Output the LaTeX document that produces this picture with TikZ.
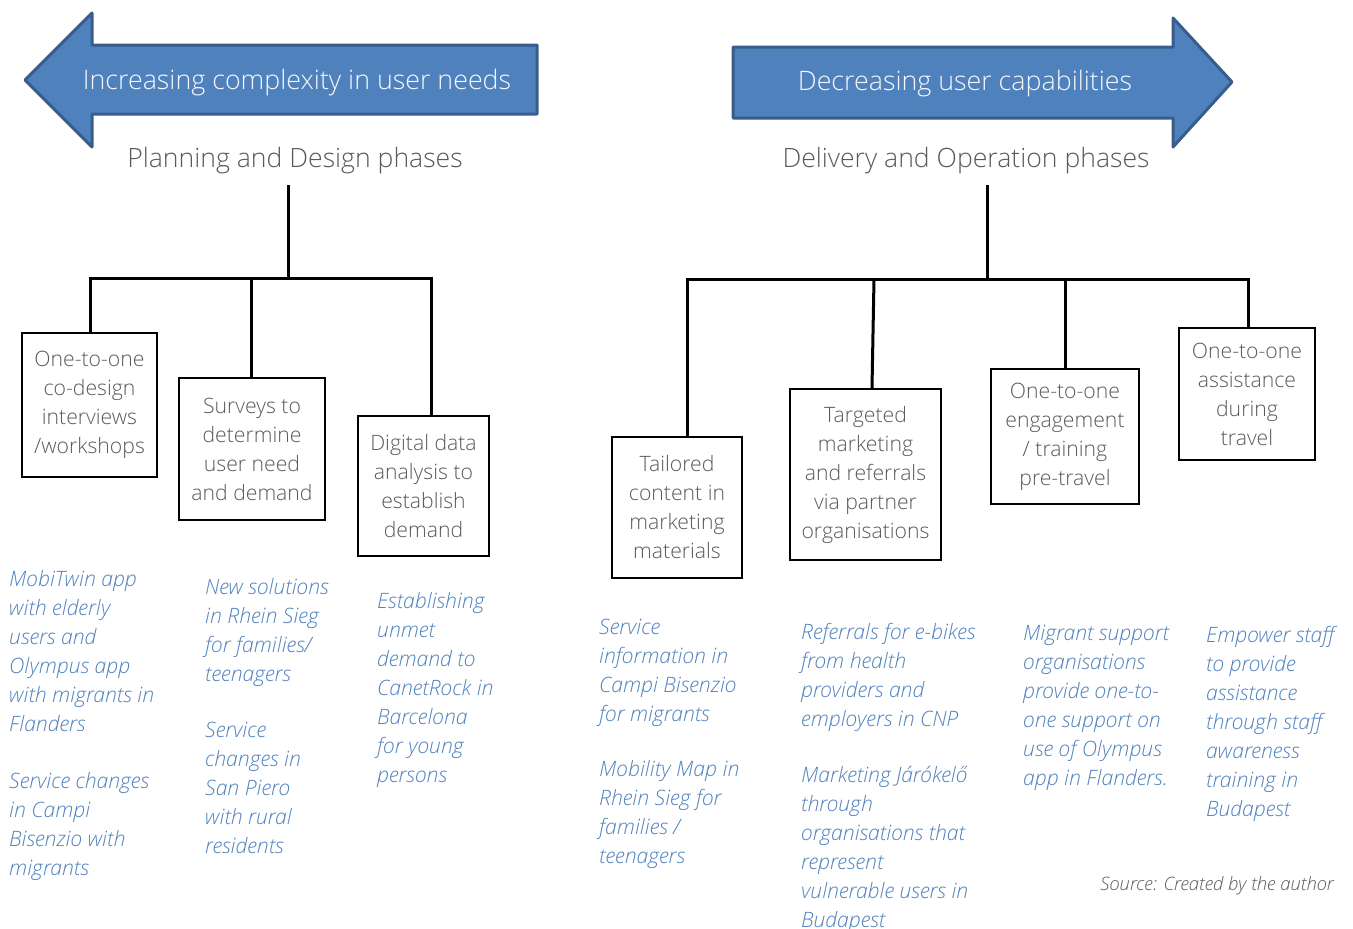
\documentclass[tikz,border=0pt]{standalone}
\usepackage{fontspec}
\setmainfont{Open Sans Light}[ItalicFont={Open Sans Light Italic}]
\usetikzlibrary{positioning}

\definecolor{arrowblue}{HTML}{4F81BD}
\definecolor{arrowedge}{HTML}{385D8A}
\definecolor{boxgray}{HTML}{595959}
\definecolor{exblue}{HTML}{4F81BD}

\tikzset{
  bigarrow/.style={fill=arrowblue, draw=arrowedge, line width=3pt, line join=round},
  arrowtext/.style={text=white!94!arrowblue, font=\fontsize{26.8}{29}\selectfont},
  heading/.style={text=boxgray, font=\fontsize{26.6}{29}\selectfont},
  phasebox/.style={draw, line width=2pt, text=boxgray, align=center, inner sep=0pt,
    font=\fontsize{21.2}{29}\selectfont},
  example/.style={anchor=north west, align=left, inner sep=0pt, text=exblue,
    font=\fontsize{21.2}{29}\selectfont\itshape},
  tree/.style={line width=3pt}
}

\begin{document}
\begin{tikzpicture}[x=1pt, y=-1pt]
  \useasboundingbox (0,0) rectangle (1353,929);

  % the two big arrows
  \draw[bigarrow] (25,80) -- (92,13) -- (92,45) -- (537,45) -- (537,114)
    -- (92,114) -- (92,147) -- cycle;
  \node[arrowtext] (needs) at (297,83) {Increasing complexity in user needs};

  \draw[bigarrow] (733,47) -- (1173,47) -- (1173,18) -- (1232,82)
    -- (1173,147) -- (1173,118) -- (733,118) -- cycle;
  \node[arrowtext] (capab) at (965,84) {Decreasing user capabilities};

  \node[heading] (plan) at (295,161) {Planning and Design phases};
  \node[heading] (deliv) at (966,161) {Delivery and Operation phases};

  % planning side
  \node[phasebox, minimum width=135, minimum height=144] at (89.5,405) (codes)
    {One-to-one\\co-design\\interviews\\/workshops};
  \node[phasebox, minimum width=146, minimum height=142] at (252,449) (surv)
    {Surveys to\\determine\\user need\\and demand};
  \node[phasebox, minimum width=131, minimum height=140] at (423.5,486) (digi)
    {Digital data\\analysis to\\establish\\demand};

  \coordinate (lstem) at (288,185);
  \coordinate (lhub) at (288,278);
  \coordinate (l1) at (90,278);
  \coordinate (l2) at (251,278);
  \coordinate (l3) at (431,278);
  \draw[tree] (lstem) -- (lhub);
  \draw[tree, line cap=rect] (l1) -- (l3);
  \draw[tree] (l1) -- (l1 |- codes.north);
  \draw[tree] (l2) -- (l2 |- surv.north);
  \draw[tree] (l3) -- (l3 |- digi.north);

  % delivery side
  \node[phasebox, minimum width=130, minimum height=141] at (677,507.5) (tail)
    {Tailored\\content in\\marketing\\materials};
  \node[phasebox, minimum width=151, minimum height=171] at (865.5,474.5) (targ)
    {Targeted\\marketing\\and referrals\\via partner\\organisations};
  \node[phasebox, minimum width=148, minimum height=135] at (1065,436.5) (engage)
    {One-to-one\\engagement\\/ training\\pre-travel};
  \node[phasebox, minimum width=136, minimum height=132] at (1247,394) (assist)
    {One-to-one\\assistance\\during\\travel};

  \coordinate (rstem) at (987,185);
  \coordinate (rhub) at (987,279);
  \coordinate (r1) at (687,279);
  \coordinate (r2) at (874,279);
  \coordinate (r3) at (1065,279);
  \coordinate (r4) at (1248,279);
  \draw[tree] (rstem) -- (rhub);
  \draw[tree, line cap=rect] (r1) -- (r4);
  \draw[tree] (r1) -- (r1 |- tail.north);
  \draw[tree] (r2) -- ([xshift=-2pt]r2 |- targ.north);
  \draw[tree] (r3) -- (r3 |- engage.north);
  \draw[tree] (r4) -- (r4 |- assist.north);

  % examples
  \node[example] (ex1) at (9,570) {MobiTwin app\\with elderly\\users and\\Olympus app\\with migrants in\\Flanders\\[28pt]Service changes\\in Campi\\Bisenzio with\\migrants};
  \node[example] (ex2) at (205,578) {New solutions\\in Rhein Sieg\\for families/\\teenagers\\[27pt]Service\\changes in\\San Piero\\with rural\\residents};
  \node[example] (ex3) at (377,592) {Establishing\\unmet\\demand to\\CanetRock in\\Barcelona\\for young\\persons};
  \node[example] (ex4) at (599,619) {Service\\information in\\Campi Bisenzio\\for migrants\\[26pt]Mobility Map in\\Rhein Sieg for\\families /\\teenagers};
  \node[example] (ex5) at (801,623) {Referrals for e-bikes\\from health\\providers and\\employers in CNP\\[27pt]Marketing Járókelő\\through\\organisations that\\represent\\vulnerable users in\\Budapest};
  \node[example] (ex6) at (1023,625) {Migrant support\\organisations\\provide one-to-\\one support on\\use of Olympus\\app in Flanders.};
  \node[example] (ex7) at (1206,626) {Empower staff\\to provide\\assistance\\through staff\\awareness\\training in\\Budapest};

  \node[anchor=east, inner sep=0pt, text=boxgray, font=\fontsize{18.5}{22}\selectfont\itshape]
    (src) at (1334,886) {Source: Created by the author};
\end{tikzpicture}
\end{document}
